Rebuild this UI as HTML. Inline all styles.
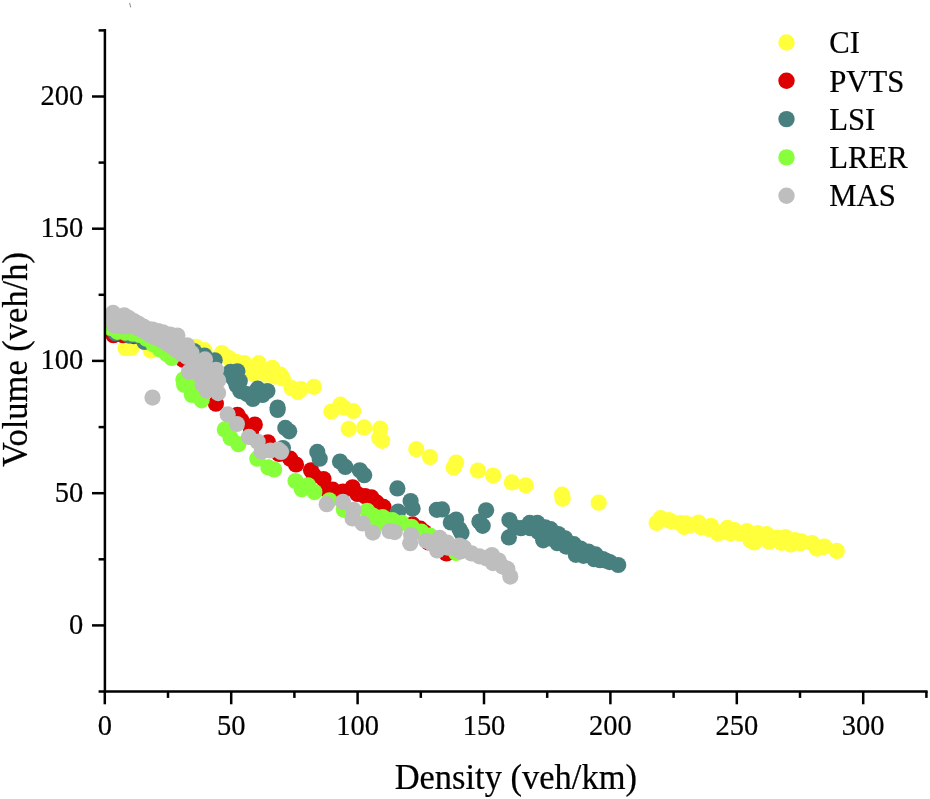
<!DOCTYPE html>
<html lang="en"><head><meta charset="utf-8"><title>Volume vs Density</title>
<style>
html,body{margin:0;padding:0;background:#fff;}
body{width:930px;height:799px;overflow:hidden;}
svg{display:block;filter:blur(0.55px);}
text{font-family:"Liberation Serif",serif;fill:#000;stroke:#000;stroke-width:0.22px;}
</style></head><body>
<svg width="930" height="799" viewBox="0 0 930 799">
<rect width="930" height="799" fill="#fff"/>
<defs><clipPath id="pc"><rect x="104.9" y="0" width="830" height="691.4"/></clipPath></defs>
<g clip-path="url(#pc)">
<g fill="#ffff3c">
<circle cx="125.5" cy="348.2" r="8.1"/><circle cx="131.5" cy="348.0" r="8.1"/><circle cx="150.8" cy="350.6" r="8.1"/><circle cx="195.8" cy="346.8" r="8.1"/><circle cx="204.5" cy="350.2" r="8.1"/><circle cx="221.9" cy="353.1" r="8.1"/><circle cx="228.7" cy="357.9" r="8.1"/><circle cx="236.5" cy="361.8" r="8.1"/><circle cx="258.7" cy="363.2" r="8.1"/><circle cx="253.9" cy="374.2" r="8.1"/><circle cx="266.5" cy="374.7" r="8.1"/><circle cx="275.2" cy="376.6" r="8.1"/><circle cx="248.1" cy="367.9" r="8.1"/><circle cx="244.2" cy="363.1" r="8.1"/><circle cx="272.3" cy="367.9" r="8.1"/><circle cx="280.5" cy="374.7" r="8.1"/><circle cx="282.9" cy="378.5" r="8.1"/><circle cx="291.6" cy="388.2" r="8.1"/><circle cx="297.9" cy="392.1" r="8.1"/><circle cx="300.8" cy="389.2" r="8.1"/><circle cx="313.9" cy="386.8" r="8.1"/><circle cx="331.3" cy="411.5" r="8.1"/><circle cx="340.5" cy="404.7" r="8.1"/><circle cx="343.9" cy="407.6" r="8.1"/><circle cx="353.1" cy="411.0" r="8.1"/><circle cx="348.7" cy="428.9" r="8.1"/><circle cx="364.2" cy="427.4" r="8.1"/><circle cx="380.2" cy="428.7" r="8.1"/><circle cx="379.2" cy="437.9" r="8.1"/><circle cx="382.1" cy="440.8" r="8.1"/><circle cx="416.3" cy="449.2" r="8.1"/><circle cx="430.0" cy="457.1" r="8.1"/><circle cx="456.1" cy="462.6" r="8.1"/><circle cx="453.7" cy="467.4" r="8.1"/><circle cx="477.9" cy="470.6" r="8.1"/><circle cx="493.1" cy="475.6" r="8.1"/><circle cx="511.8" cy="482.4" r="8.1"/><circle cx="525.8" cy="485.3" r="8.1"/><circle cx="562.1" cy="494.7" r="8.1"/><circle cx="562.6" cy="498.7" r="8.1"/><circle cx="598.7" cy="502.7" r="8.1"/><circle cx="660.7" cy="518.2" r="8.1"/><circle cx="669.0" cy="520.2" r="8.1"/><circle cx="680.2" cy="523.2" r="8.1"/><circle cx="686.1" cy="523.4" r="8.1"/><circle cx="698.5" cy="522.6" r="8.1"/><circle cx="711.0" cy="525.9" r="8.1"/><circle cx="727.5" cy="527.9" r="8.1"/><circle cx="734.6" cy="530.2" r="8.1"/><circle cx="747.0" cy="531.2" r="8.1"/><circle cx="656.6" cy="523.0" r="8.1"/><circle cx="670.8" cy="521.3" r="8.1"/><circle cx="684.4" cy="526.9" r="8.1"/><circle cx="690.9" cy="525.0" r="8.1"/><circle cx="700.9" cy="527.2" r="8.1"/><circle cx="709.2" cy="528.9" r="8.1"/><circle cx="718.1" cy="533.4" r="8.1"/><circle cx="730.5" cy="533.4" r="8.1"/><circle cx="740.5" cy="533.7" r="8.1"/><circle cx="757.7" cy="533.2" r="8.1"/><circle cx="766.6" cy="534.1" r="8.1"/><circle cx="777.3" cy="537.6" r="8.1"/><circle cx="785.5" cy="537.1" r="8.1"/><circle cx="795.0" cy="540.0" r="8.1"/><circle cx="801.5" cy="541.4" r="8.1"/><circle cx="812.2" cy="543.2" r="8.1"/><circle cx="823.4" cy="546.8" r="8.1"/><circle cx="836.8" cy="550.9" r="8.1"/><circle cx="754.2" cy="542.5" r="8.1"/><circle cx="769.0" cy="541.7" r="8.1"/><circle cx="781.4" cy="542.8" r="8.1"/><circle cx="790.9" cy="544.5" r="8.1"/><circle cx="800.3" cy="543.3" r="8.1"/><circle cx="816.9" cy="548.6" r="8.1"/><circle cx="824.6" cy="546.6" r="8.1"/><circle cx="750.6" cy="540.5" r="8.1"/>
</g>
<g fill="#dc0000">
<circle cx="113.5" cy="335.2" r="8.1"/><circle cx="123.2" cy="335.2" r="8.1"/><circle cx="133.9" cy="336.1" r="8.1"/><circle cx="183.2" cy="359.8" r="8.1"/><circle cx="215.9" cy="403.7" r="8.1"/><circle cx="237.4" cy="414.8" r="8.1"/><circle cx="241.3" cy="420.2" r="8.1"/><circle cx="254.8" cy="424.5" r="8.1"/><circle cx="251.0" cy="431.8" r="8.1"/><circle cx="267.9" cy="442.3" r="8.1"/><circle cx="279.0" cy="453.9" r="8.1"/><circle cx="290.2" cy="458.7" r="8.1"/><circle cx="296.0" cy="464.5" r="8.1"/><circle cx="311.0" cy="470.3" r="8.1"/><circle cx="313.9" cy="475.6" r="8.1"/><circle cx="323.5" cy="479.0" r="8.1"/><circle cx="326.5" cy="489.2" r="8.1"/><circle cx="332.7" cy="489.7" r="8.1"/><circle cx="342.9" cy="491.6" r="8.1"/><circle cx="352.6" cy="487.3" r="8.1"/><circle cx="357.4" cy="494.0" r="8.1"/><circle cx="365.2" cy="496.2" r="8.1"/><circle cx="371.5" cy="497.4" r="8.1"/><circle cx="376.8" cy="502.7" r="8.1"/><circle cx="412.6" cy="524.4" r="8.1"/><circle cx="420.3" cy="528.7" r="8.1"/><circle cx="424.2" cy="532.1" r="8.1"/><circle cx="446.5" cy="553.4" r="8.1"/><circle cx="428.5" cy="542.5" r="8.1"/><circle cx="383.5" cy="506.9" r="8.1"/><circle cx="375.8" cy="504.0" r="8.1"/>
</g>
<g fill="#48807f">
<circle cx="115.5" cy="333.2" r="8.1"/><circle cx="129.0" cy="335.6" r="8.1"/><circle cx="135.8" cy="335.6" r="8.1"/><circle cx="144.5" cy="341.9" r="8.1"/><circle cx="193.9" cy="351.1" r="8.1"/><circle cx="204.5" cy="355.5" r="8.1"/><circle cx="214.7" cy="360.3" r="8.1"/><circle cx="237.4" cy="371.3" r="8.1"/><circle cx="230.6" cy="371.8" r="8.1"/><circle cx="233.5" cy="378.5" r="8.1"/><circle cx="236.5" cy="385.3" r="8.1"/><circle cx="240.3" cy="391.1" r="8.1"/><circle cx="247.1" cy="394.0" r="8.1"/><circle cx="252.9" cy="398.9" r="8.1"/><circle cx="257.7" cy="388.7" r="8.1"/><circle cx="267.4" cy="391.1" r="8.1"/><circle cx="262.6" cy="395.0" r="8.1"/><circle cx="277.6" cy="407.6" r="8.1"/><circle cx="277.6" cy="410.0" r="8.1"/><circle cx="239.8" cy="381.0" r="8.1"/><circle cx="285.3" cy="427.9" r="8.1"/><circle cx="289.2" cy="431.3" r="8.1"/><circle cx="282.9" cy="448.1" r="8.1"/><circle cx="317.3" cy="451.9" r="8.1"/><circle cx="319.7" cy="458.7" r="8.1"/><circle cx="340.0" cy="461.6" r="8.1"/><circle cx="345.3" cy="466.9" r="8.1"/><circle cx="359.8" cy="470.3" r="8.1"/><circle cx="364.2" cy="475.2" r="8.1"/><circle cx="397.4" cy="488.4" r="8.1"/><circle cx="410.6" cy="501.1" r="8.1"/><circle cx="398.1" cy="511.5" r="8.1"/><circle cx="412.6" cy="508.4" r="8.1"/><circle cx="436.8" cy="509.8" r="8.1"/><circle cx="442.1" cy="509.4" r="8.1"/><circle cx="450.8" cy="522.4" r="8.1"/><circle cx="456.1" cy="519.5" r="8.1"/><circle cx="459.5" cy="529.2" r="8.1"/><circle cx="461.5" cy="533.1" r="8.1"/><circle cx="486.1" cy="510.3" r="8.1"/><circle cx="479.4" cy="521.5" r="8.1"/><circle cx="482.7" cy="525.8" r="8.1"/><circle cx="509.4" cy="520.0" r="8.1"/><circle cx="508.9" cy="537.4" r="8.1"/><circle cx="515.2" cy="527.3" r="8.1"/><circle cx="521.0" cy="528.2" r="8.1"/><circle cx="529.7" cy="522.9" r="8.1"/><circle cx="530.2" cy="528.2" r="8.1"/><circle cx="537.4" cy="522.9" r="8.1"/><circle cx="545.2" cy="527.3" r="8.1"/><circle cx="543.2" cy="540.3" r="8.1"/><circle cx="549.5" cy="534.0" r="8.1"/><circle cx="538.4" cy="532.1" r="8.1"/><circle cx="550.6" cy="529.2" r="8.1"/><circle cx="558.4" cy="534.0" r="8.1"/><circle cx="565.2" cy="538.4" r="8.1"/><circle cx="573.9" cy="544.2" r="8.1"/><circle cx="580.6" cy="548.5" r="8.1"/><circle cx="588.4" cy="551.5" r="8.1"/><circle cx="595.6" cy="554.4" r="8.1"/><circle cx="602.9" cy="559.2" r="8.1"/><circle cx="609.7" cy="562.1" r="8.1"/><circle cx="618.2" cy="565.0" r="8.1"/><circle cx="557.4" cy="543.2" r="8.1"/><circle cx="566.1" cy="546.6" r="8.1"/><circle cx="575.8" cy="554.8" r="8.1"/><circle cx="583.5" cy="555.8" r="8.1"/><circle cx="594.2" cy="559.2" r="8.1"/><circle cx="600.0" cy="560.2" r="8.1"/><circle cx="605.8" cy="560.6" r="8.1"/><circle cx="550.6" cy="536.0" r="8.1"/><circle cx="559.4" cy="539.8" r="8.1"/><circle cx="569.0" cy="545.6" r="8.1"/><circle cx="578.7" cy="551.5" r="8.1"/><circle cx="586.5" cy="554.4" r="8.1"/><circle cx="550.2" cy="538.4" r="8.1"/>
</g>
<g fill="#87ff3a">
<circle cx="110.6" cy="327.9" r="8.1"/><circle cx="117.4" cy="331.8" r="8.1"/><circle cx="125.2" cy="332.7" r="8.1"/><circle cx="132.9" cy="333.7" r="8.1"/><circle cx="139.7" cy="334.9" r="8.1"/><circle cx="146.5" cy="338.7" r="8.1"/><circle cx="153.2" cy="344.2" r="8.1"/><circle cx="160.0" cy="349.4" r="8.1"/><circle cx="166.8" cy="354.0" r="8.1"/><circle cx="171.6" cy="357.9" r="8.1"/><circle cx="109.7" cy="324.0" r="8.1"/><circle cx="192.9" cy="386.8" r="8.1"/><circle cx="191.9" cy="395.0" r="8.1"/><circle cx="195.8" cy="392.1" r="8.1"/><circle cx="201.6" cy="400.3" r="8.1"/><circle cx="224.8" cy="429.4" r="8.1"/><circle cx="238.4" cy="444.2" r="8.1"/><circle cx="230.6" cy="437.9" r="8.1"/><circle cx="257.3" cy="458.7" r="8.1"/><circle cx="268.4" cy="467.4" r="8.1"/><circle cx="274.2" cy="469.4" r="8.1"/><circle cx="295.5" cy="481.0" r="8.1"/><circle cx="301.8" cy="489.2" r="8.1"/><circle cx="308.1" cy="485.3" r="8.1"/><circle cx="314.4" cy="492.1" r="8.1"/><circle cx="329.4" cy="500.3" r="8.1"/><circle cx="343.9" cy="509.8" r="8.1"/><circle cx="367.1" cy="510.8" r="8.1"/><circle cx="372.9" cy="515.6" r="8.1"/><circle cx="382.6" cy="517.1" r="8.1"/><circle cx="392.3" cy="520.0" r="8.1"/><circle cx="401.9" cy="522.9" r="8.1"/><circle cx="411.6" cy="526.8" r="8.1"/><circle cx="421.3" cy="531.6" r="8.1"/><circle cx="430.0" cy="535.5" r="8.1"/><circle cx="375.8" cy="524.4" r="8.1"/><circle cx="394.2" cy="527.3" r="8.1"/><circle cx="456.1" cy="552.9" r="8.1"/><circle cx="183.4" cy="379.5" r="8.1"/><circle cx="184.2" cy="384.8" r="8.1"/>
</g>
<g fill="#bebebe">
<circle cx="113.1" cy="312.9" r="8.1"/><circle cx="124.2" cy="315.3" r="8.1"/><circle cx="129.0" cy="318.2" r="8.1"/><circle cx="133.9" cy="321.1" r="8.1"/><circle cx="138.7" cy="323.8" r="8.1"/><circle cx="143.5" cy="326.5" r="8.1"/><circle cx="148.4" cy="329.1" r="8.1"/><circle cx="152.7" cy="329.6" r="8.1"/><circle cx="158.1" cy="331.0" r="8.1"/><circle cx="162.9" cy="332.3" r="8.1"/><circle cx="170.2" cy="334.5" r="8.1"/><circle cx="177.4" cy="335.6" r="8.1"/><circle cx="114.5" cy="325.5" r="8.1"/><circle cx="111.6" cy="319.2" r="8.1"/><circle cx="119.4" cy="326.0" r="8.1"/><circle cx="124.2" cy="326.5" r="8.1"/><circle cx="129.0" cy="326.2" r="8.1"/><circle cx="133.9" cy="326.5" r="8.1"/><circle cx="138.7" cy="328.4" r="8.1"/><circle cx="143.5" cy="330.8" r="8.1"/><circle cx="148.4" cy="333.7" r="8.1"/><circle cx="153.2" cy="336.6" r="8.1"/><circle cx="158.1" cy="338.5" r="8.1"/><circle cx="162.9" cy="341.0" r="8.1"/><circle cx="167.7" cy="343.9" r="8.1"/><circle cx="172.6" cy="347.3" r="8.1"/><circle cx="177.4" cy="350.6" r="8.1"/><circle cx="182.3" cy="354.0" r="8.1"/><circle cx="187.1" cy="356.9" r="8.1"/><circle cx="119.4" cy="320.2" r="8.1"/><circle cx="129.0" cy="323.1" r="8.1"/><circle cx="138.7" cy="326.9" r="8.1"/><circle cx="148.4" cy="331.3" r="8.1"/><circle cx="158.1" cy="334.7" r="8.1"/><circle cx="167.7" cy="338.5" r="8.1"/><circle cx="177.4" cy="343.4" r="8.1"/><circle cx="185.2" cy="349.2" r="8.1"/><circle cx="187.1" cy="345.3" r="8.1"/><circle cx="205.0" cy="359.4" r="8.1"/><circle cx="195.8" cy="361.8" r="8.1"/><circle cx="191.5" cy="353.1" r="8.1"/><circle cx="192.9" cy="369.8" r="8.1"/><circle cx="199.7" cy="374.7" r="8.1"/><circle cx="207.4" cy="376.6" r="8.1"/><circle cx="216.1" cy="369.8" r="8.1"/><circle cx="218.1" cy="380.5" r="8.1"/><circle cx="202.6" cy="384.4" r="8.1"/><circle cx="206.9" cy="390.6" r="8.1"/><circle cx="218.1" cy="393.1" r="8.1"/><circle cx="227.7" cy="414.4" r="8.1"/><circle cx="236.9" cy="424.0" r="8.1"/><circle cx="210.3" cy="384.4" r="8.1"/><circle cx="202.6" cy="366.0" r="8.1"/><circle cx="249.0" cy="436.9" r="8.1"/><circle cx="257.7" cy="441.8" r="8.1"/><circle cx="261.6" cy="451.5" r="8.1"/><circle cx="270.3" cy="450.5" r="8.1"/><circle cx="278.1" cy="449.5" r="8.1"/><circle cx="281.0" cy="451.9" r="8.1"/><circle cx="326.7" cy="504.2" r="8.1"/><circle cx="342.9" cy="501.8" r="8.1"/><circle cx="352.6" cy="518.5" r="8.1"/><circle cx="362.7" cy="523.4" r="8.1"/><circle cx="353.5" cy="509.8" r="8.1"/><circle cx="372.9" cy="532.6" r="8.1"/><circle cx="389.4" cy="531.1" r="8.1"/><circle cx="394.7" cy="532.1" r="8.1"/><circle cx="411.1" cy="535.0" r="8.1"/><circle cx="410.2" cy="543.2" r="8.1"/><circle cx="426.1" cy="540.8" r="8.1"/><circle cx="431.9" cy="543.7" r="8.1"/><circle cx="439.7" cy="537.9" r="8.1"/><circle cx="437.3" cy="550.5" r="8.1"/><circle cx="447.4" cy="542.7" r="8.1"/><circle cx="447.4" cy="547.6" r="8.1"/><circle cx="455.2" cy="548.5" r="8.1"/><circle cx="459.5" cy="545.6" r="8.1"/><circle cx="463.9" cy="547.6" r="8.1"/><circle cx="460.5" cy="551.5" r="8.1"/><circle cx="471.6" cy="553.4" r="8.1"/><circle cx="479.4" cy="556.3" r="8.1"/><circle cx="486.1" cy="558.2" r="8.1"/><circle cx="491.9" cy="555.0" r="8.1"/><circle cx="498.7" cy="560.6" r="8.1"/><circle cx="492.9" cy="563.1" r="8.1"/><circle cx="507.4" cy="568.9" r="8.1"/><circle cx="502.6" cy="566.5" r="8.1"/><circle cx="510.3" cy="576.6" r="8.1"/><circle cx="152.5" cy="397.6" r="8.1"/><circle cx="189.0" cy="371.8" r="8.1"/>
</g>
</g>
<g stroke="#000" stroke-width="2.5" fill="none" stroke-linecap="butt">
<path d="M104.9 29.1 V692.6"/>
<path d="M98.6 691.4 H927.6"/>
<path d="M92.0 625.4 H104.9"/><path d="M98.6 559.3 H104.9"/><path d="M92.0 493.2 H104.9"/><path d="M98.6 427.1 H104.9"/><path d="M92.0 360.9 H104.9"/><path d="M98.6 294.8 H104.9"/><path d="M92.0 228.7 H104.9"/><path d="M98.6 162.6 H104.9"/><path d="M92.0 96.5 H104.9"/><path d="M98.6 30.4 H104.9"/>
<path d="M104.8 691.4 V704.3"/><path d="M168.0 691.4 V697.9"/><path d="M231.2 691.4 V704.3"/><path d="M294.4 691.4 V697.9"/><path d="M357.6 691.4 V704.3"/><path d="M420.8 691.4 V697.9"/><path d="M484.0 691.4 V704.3"/><path d="M547.2 691.4 V697.9"/><path d="M610.4 691.4 V704.3"/><path d="M673.6 691.4 V697.9"/><path d="M736.8 691.4 V704.3"/><path d="M800.0 691.4 V697.9"/><path d="M863.2 691.4 V704.3"/><path d="M926.4 691.4 V697.9"/>
</g>
<g font-size="28.5" text-anchor="end">
<text transform="translate(83.3 633.9) scale(1 1.035)">0</text><text transform="translate(83.3 501.7) scale(1 1.035)">50</text><text transform="translate(83.3 369.4) scale(1 1.035)">100</text><text transform="translate(83.3 237.2) scale(1 1.035)">150</text><text transform="translate(83.3 105.0) scale(1 1.035)">200</text>
</g>
<g font-size="28.5" text-anchor="middle">
<text transform="translate(104.8 735.1) scale(1 1.035)">0</text><text transform="translate(231.2 735.1) scale(1 1.035)">50</text><text transform="translate(357.6 735.1) scale(1 1.035)">100</text><text transform="translate(484.0 735.1) scale(1 1.035)">150</text><text transform="translate(610.4 735.1) scale(1 1.035)">200</text><text transform="translate(736.8 735.1) scale(1 1.035)">250</text><text transform="translate(863.2 735.1) scale(1 1.035)">300</text>
</g>
<text transform="translate(515.8 788.6) scale(1 1.035)" font-size="34.5" text-anchor="middle">Density (veh/km)</text>
<text transform="translate(27.0 359.5) rotate(-90) scale(1 1.035)" font-size="34.5" text-anchor="middle">Volume (veh/h)</text>
<circle cx="786.5" cy="42.5" r="8.2" fill="#ffff3c"/><text transform="translate(829.3 53.2) scale(1 1.035)" font-size="30.7">CI</text>
<circle cx="786.5" cy="80.8" r="8.2" fill="#dc0000"/><text transform="translate(829.3 91.5) scale(1 1.035)" font-size="30.7">PVTS</text>
<circle cx="786.5" cy="119.1" r="8.2" fill="#48807f"/><text transform="translate(829.3 129.8) scale(1 1.035)" font-size="30.7">LSI</text>
<circle cx="786.5" cy="157.4" r="8.2" fill="#87ff3a"/><text transform="translate(829.3 168.1) scale(1 1.035)" font-size="30.7">LRER</text>
<circle cx="786.5" cy="195.7" r="8.2" fill="#bebebe"/><text transform="translate(829.3 206.4) scale(1 1.035)" font-size="30.7">MAS</text>
<path d="M129.7 3.3 L130.6 7" stroke="#8a8a8a" stroke-width="1" stroke-linecap="round"/>
</svg>
</body></html>
